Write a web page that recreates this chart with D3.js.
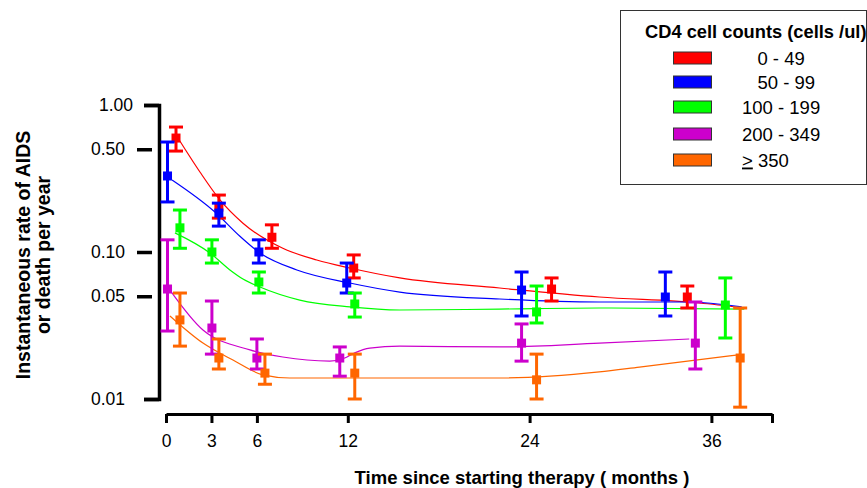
<!DOCTYPE html>
<html><head><meta charset="utf-8">
<script src="https://cdn.jsdelivr.net/npm/d3@7"></script>
<style>
body{margin:0;background:#fff}
svg{display:block;background:#fff}
text{font-family:"Liberation Sans",Arial,sans-serif;fill:#000}
</style>
</head><body>
<svg id="c" width="867" height="488"></svg>
<script>
// ---------- DATA ----------
const groups = ["0 - 49", "50 - 99", "100 - 199", "200 - 349", "≥350"];
const legendTitle = "CD4 cell counts (cells /ul)";
const xTitle = "Time since starting therapy ( months )";
const yTitle = ["Instantaneous rate of AIDS", "or death per year"];
const xTicks = [0, 3, 6, 12, 24, 36, 40];
const yTicks = [1, 0.5, 0.1, 0.05, 0.01];
const yTickLabels = ["1.00", "0.50", "0.10", "0.05", "0.01"];

// observed estimates (time in months, rate, lower CI, upper CI)
const timeRed = [0.66, 3.49, 6.99, 12.39, 25.45, 34.41];
const rateRed = [0.596, 0.202, 0.126, 0.0778, 0.056, 0.0494];
const lowRed  = [0.486, 0.170, 0.106, 0.0666, 0.0464, 0.0416];
const highRed = [0.708, 0.244, 0.153, 0.0955, 0.0666, 0.0587];

const timeBlue = [0.1, 3.49, 6.13, 11.93, 23.47, 32.96];
const rateBlue = [0.329, 0.184, 0.100, 0.0615, 0.0551, 0.0494];
const lowBlue  = [0.219, 0.150, 0.0841, 0.0526, 0.0367, 0.0367];
const highBlue = [0.560, 0.215, 0.121, 0.0841, 0.0731, 0.0731];

const timeGreen = [0.92, 3.03, 6.13, 12.46, 24.46, 36.92];
const rateGreen = [0.146, 0.100, 0.0625, 0.0443, 0.0391, 0.0436];
const lowGreen  = [0.106, 0.0841, 0.0526, 0.0361, 0.0329, 0.0260];
const highGreen = [0.193, 0.121, 0.0731, 0.0526, 0.0587, 0.0666];

const timeMagenta = [0.1, 3.03, 6.0, 11.47, 23.47, 34.94];
const rateMagenta = [0.056, 0.0304, 0.019, 0.019, 0.024, 0.024];
const lowMagenta  = [0.029, 0.0202, 0.016, 0.0143, 0.0181, 0.016];
const highMagenta = [0.121, 0.0464, 0.0256, 0.0226, 0.0324, 0.0457];

const timeOrange = [0.92, 3.49, 6.53, 12.46, 24.46, 37.9];
const rateOrange = [0.0345, 0.019, 0.015, 0.015, 0.0135, 0.019];
const lowOrange  = [0.0229, 0.016, 0.0126, 0.010, 0.010, 0.0088];
const highOrange = [0.0526, 0.0256, 0.0202, 0.0202, 0.0202, 0.0416];

// fitted curves (time, rate)
const fitTimeRed = [0.79, 2.24, 3.56, 5.08, 7.71, 9.95, 12.13, 15.43, 22.02, 28.6, 35.2, 38.17];
const fitRateRed = [0.596, 0.350, 0.226, 0.157, 0.106, 0.0882, 0.0778, 0.0666, 0.0569, 0.0494, 0.045, 0.0416];
const fitTimeBlue = [0.4, 3.23, 4.88, 6.2, 8.64, 12.13, 15.43, 22.02, 28.6, 34.5, 38.0];
const fitRateBlue = [0.309, 0.187, 0.128, 0.0985, 0.0755, 0.0615, 0.0534, 0.0479, 0.0457, 0.0457, 0.0423];
const fitTimeGreen = [0.59, 2.9, 4.22, 5.08, 6.2, 8.83, 12.13, 15.43, 22.02, 28.6, 38.17];
const fitRateGreen = [0.135, 0.0985, 0.0755, 0.0655, 0.0578, 0.0471, 0.0423, 0.0403, 0.0409, 0.0416, 0.0409];
const fitTimeMagenta = [0.26, 2.44, 5.54, 7.71, 10.81, 11.8, 12.46, 13.45, 15.43, 22.02, 28.6, 34.54];
const fitRateMagenta = [0.0551, 0.0295, 0.0216, 0.0193, 0.0181, 0.019, 0.0206, 0.0222, 0.0229, 0.0226, 0.024, 0.0256];
const fitTimeOrange = [0.26, 2.44, 4.42, 6.39, 8.17, 12.13, 18.72, 22.02, 28.6, 31.25, 37.64];
const fitRateOrange = [0.0367, 0.024, 0.0184, 0.0146, 0.0139, 0.0139, 0.0139, 0.0139, 0.0153, 0.0165, 0.0199];

const colors = ["#ff0000", "#0000ff", "#00ff00", "#cc00cc", "#ff6600"];

// ---------- BUILD ----------
const series = [
  {t: timeRed, r: rateRed, lo: lowRed, hi: highRed, ft: fitTimeRed, fv: fitRateRed},
  {t: timeBlue, r: rateBlue, lo: lowBlue, hi: highBlue, ft: fitTimeBlue, fv: fitRateBlue},
  {t: timeGreen, r: rateGreen, lo: lowGreen, hi: highGreen, ft: fitTimeGreen, fv: fitRateGreen},
  {t: timeMagenta, r: rateMagenta, lo: lowMagenta, hi: highMagenta, ft: fitTimeMagenta, fv: fitRateMagenta},
  {t: timeOrange, r: rateOrange, lo: lowOrange, hi: highOrange, ft: fitTimeOrange, fv: fitRateOrange}
].map((s, i) => ({...s, name: groups[i], color: colors[i],
  pts: s.t.map((t, j) => ({t, r: s.r[j], lo: s.lo[j], hi: s.hi[j]})),
  fit: s.ft.map((t, j) => ({t, v: s.fv[j]}))}));

const svg = d3.select("#c");
const x = d3.scaleLinear().domain([0, 40]).range([166, 772]);
const y = d3.scaleLog().domain([0.01, 1]).range([399, 105]);

// Y axis (bracket style)
const yAxisX = 159;
const ya = svg.append("g").attr("transform", `translate(${yAxisX},0)`)
  .call(d3.axisLeft(y).tickValues(yTicks).tickSize(15).tickSizeOuter(15)
        .tickFormat((d, i) => yTickLabels[i]));
ya.select(".domain").attr("stroke", "#000").attr("stroke-width", 3.5);
ya.selectAll(".tick line").attr("stroke", "#000").attr("stroke-width", 3.5)
  .attr("x1", d => (d === 1 || d === 0.01) ? 0 : -7)
  .attr("x2", d => (d === 1 || d === 0.01) ? -15 : -22);
ya.selectAll(".tick text").attr("x", d => d === 1 ? -26 : -34)
  .style("font-size", "17.5px").style("font-family", '"Liberation Sans",Arial,sans-serif').attr("fill", "#000");

// X axis
const xa = svg.append("g").attr("transform", "translate(0,414)")
  .call(d3.axisBottom(x).tickValues(xTicks).tickSizeInner(9).tickSizeOuter(0)
        .tickFormat(d => d === 40 ? "" : d));
xa.select(".domain").attr("stroke", "#000").attr("stroke-width", 3);
xa.selectAll(".tick line").attr("stroke", "#000").attr("stroke-width", 3);
xa.selectAll(".tick text").attr("y", 21)
  .style("font-size", "17.5px").style("font-family", '"Liberation Sans",Arial,sans-serif').attr("fill", "#000");

// Titles
svg.append("text").attr("x", 522).attr("y", 484).attr("text-anchor", "middle")
  .style("font-size", "18.5px").style("font-weight", "bold").text(xTitle);
yTitle.forEach((t, i) => {
  svg.append("text").attr("transform", `translate(${23 + i * 20},255) rotate(-90)`)
    .attr("dy", "0.35em").attr("text-anchor", "middle")
    .style("font-size", "19.5px").style("font-weight", "bold").text(t);
});

// Fitted curves
const line = d3.line().x(d => x(d.t)).y(d => y(d.v)).curve(d3.curveMonotoneX);
svg.append("g").selectAll("path").data(series).join("path")
  .attr("d", s => line(s.fit)).attr("fill", "none")
  .attr("stroke", s => s.color).attr("stroke-width", 1.2);

// Error bars and squares
const cap = 7;
series.forEach(s => {
  const g = svg.append("g").attr("stroke", s.color).attr("stroke-width", 3);
  s.pts.forEach(p => {
    const cx = x(p.t);
    g.append("line").attr("x1", cx).attr("x2", cx).attr("y1", y(p.lo)).attr("y2", y(p.hi));
    g.append("line").attr("x1", cx - cap).attr("x2", cx + cap).attr("y1", y(p.lo)).attr("y2", y(p.lo));
    g.append("line").attr("x1", cx - cap).attr("x2", cx + cap).attr("y1", y(p.hi)).attr("y2", y(p.hi));
  });
  svg.append("g").selectAll("rect").data(s.pts).join("rect")
    .attr("x", p => x(p.t) - 4.5).attr("y", p => y(p.r) - 4.5)
    .attr("width", 9).attr("height", 9).attr("fill", s.color);
});

// Legend
const lg = svg.append("g");
lg.append("rect").attr("x", 620.5).attr("y", 10.5).attr("width", 246).attr("height", 174)
  .attr("fill", "#fff").attr("stroke", "#333").attr("stroke-width", 1);
lg.append("text").attr("x", 645).attr("y", 38).style("font-size", "18.3px")
  .style("font-weight", "bold").text(legendTitle);
const legendRowY = [58, 82, 107, 134, 160];
series.forEach((s, i) => {
  const cy = legendRowY[i];
  lg.append("rect").attr("x", 673.5).attr("y", cy - 6).attr("width", 38).attr("height", 12)
    .attr("fill", s.color).attr("stroke", "#333").attr("stroke-width", 1);
  const t = lg.append("text").attr("x", 742).attr("y", cy + 6.5)
    .style("font-size", "18.5px").style("white-space", "pre");
  if (s.name.startsWith("≥")) {
    t.append("tspan").style("text-decoration", "underline").text(">");
    t.append("tspan").text(" " + s.name.slice(1));
  } else if (i < 2) {
    t.text("   " + s.name);
  } else {
    t.text(s.name);
  }
});
</script>
</body></html>
